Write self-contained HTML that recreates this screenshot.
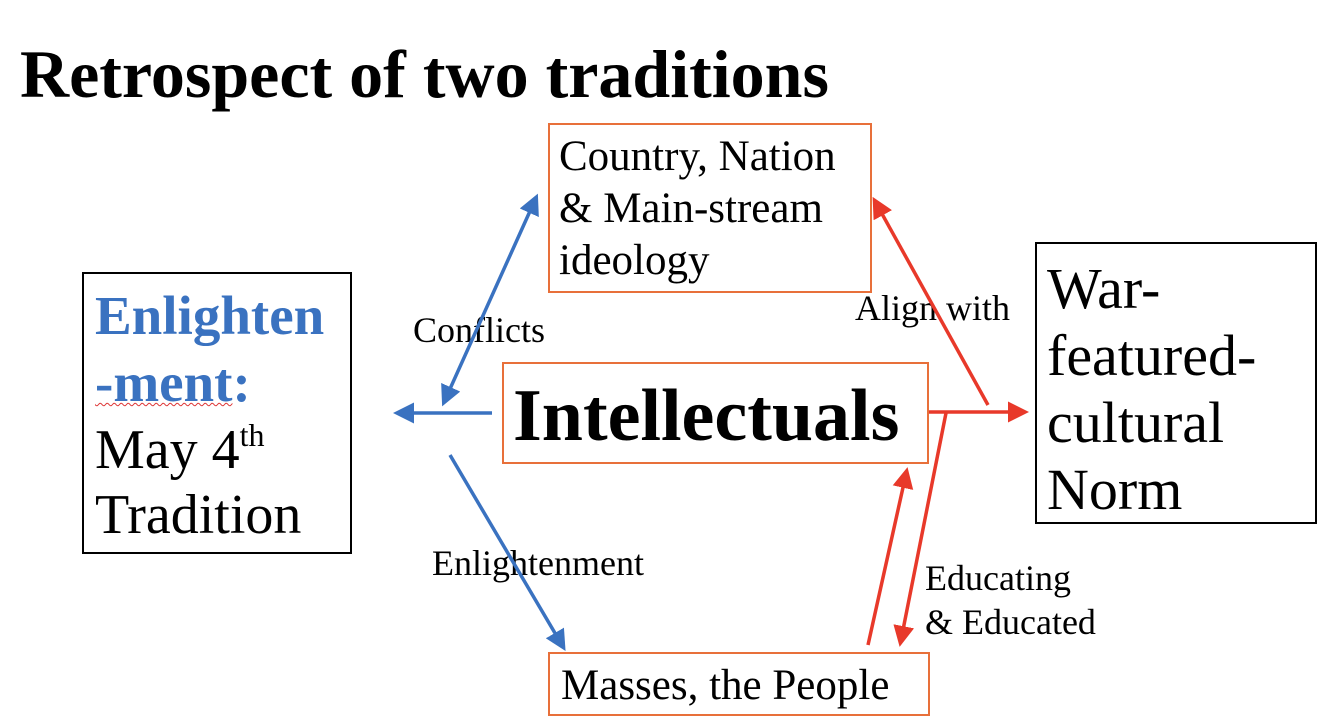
<!DOCTYPE html>
<html><head><style>
body{margin:0;width:1340px;height:724px;background:#fff;position:relative;overflow:hidden;font-family:"Liberation Serif",serif;}
.a{position:absolute;white-space:nowrap;line-height:1;}
.box{position:absolute;box-sizing:border-box;}
.o{border:2px solid #e8703a;}
.k{border:2px solid #000;}
</style></head><body>
<div class="a" style="left:20px;top:40px;font-size:68px;font-weight:bold;">Retrospect of two traditions</div>

<div class="box o" style="left:548px;top:123px;width:324px;height:170px;"></div>
<div class="a" style="left:559px;top:131px;font-size:43px;line-height:52px;">Country, Nation<br>&amp; Main-stream<br>ideology</div>

<div class="box o" style="left:502px;top:362px;width:427px;height:102px;"></div>
<div class="a" style="left:513px;top:379px;font-size:74px;font-weight:bold;">Intellectuals</div>

<div class="box o" style="left:548px;top:652px;width:382px;height:64px;"></div>
<div class="a" style="left:561px;top:664px;font-size:43px;">Masses, the People</div>

<div class="box k" style="left:82px;top:272px;width:270px;height:282px;"></div>
<div class="a" style="left:95px;top:282px;font-size:55px;font-weight:bold;color:#3a72c0;line-height:67px;">Enlighten<br><span style="text-decoration:underline wavy #d33;text-decoration-thickness:1px;">-ment</span>:</div>
<div class="a" style="left:95px;top:418px;font-size:56px;line-height:65px;">May 4<sup style="font-size:32px;vertical-align:22px;line-height:0">th</sup><br>Tradition</div>

<div class="box k" style="left:1035px;top:242px;width:282px;height:282px;"></div>
<div class="a" style="left:1047px;top:255px;font-size:58px;line-height:67px;">War-<br>featured-<br>cultural<br>Norm</div>

<div class="a" style="left:413px;top:312px;font-size:36px;">Conflicts</div>
<div class="a" style="left:855px;top:290px;font-size:36px;">Align with</div>
<div class="a" style="left:432px;top:545px;font-size:36px;">Enlightenment</div>
<div class="a" style="left:925px;top:556px;font-size:36px;line-height:44px;">Educating<br>&amp; Educated</div>

<svg width="1340" height="724" style="position:absolute;left:0;top:0">
<defs>
<marker id="b" markerWidth="6" markerHeight="6" refX="4" refY="3" orient="auto-start-reverse" markerUnits="strokeWidth"><path d="M0,0 L6,3 L0,6 Z" fill="#3a72c0"/></marker>
<marker id="r" markerWidth="6" markerHeight="6" refX="4" refY="3" orient="auto-start-reverse" markerUnits="strokeWidth"><path d="M0,0 L6,3 L0,6 Z" fill="#e8392a"/></marker>
</defs>
<g stroke="#3a72c0" stroke-width="3.5" fill="none">
<line x1="445" y1="400" x2="535" y2="200" marker-start="url(#b)" marker-end="url(#b)"/>
<line x1="492" y1="413" x2="400" y2="413" marker-end="url(#b)"/>
<line x1="450" y1="455" x2="562" y2="645" marker-end="url(#b)"/>
</g>
<g stroke="#e8392a" stroke-width="3.5" fill="none">
<line x1="929" y1="412" x2="1022" y2="412" marker-end="url(#r)"/>
<line x1="988" y1="405" x2="876" y2="203" marker-end="url(#r)"/>
<line x1="868" y1="645" x2="906" y2="474" marker-end="url(#r)"/>
<line x1="946" y1="413" x2="901" y2="640" marker-end="url(#r)"/>
</g>
</svg>
</body></html>
